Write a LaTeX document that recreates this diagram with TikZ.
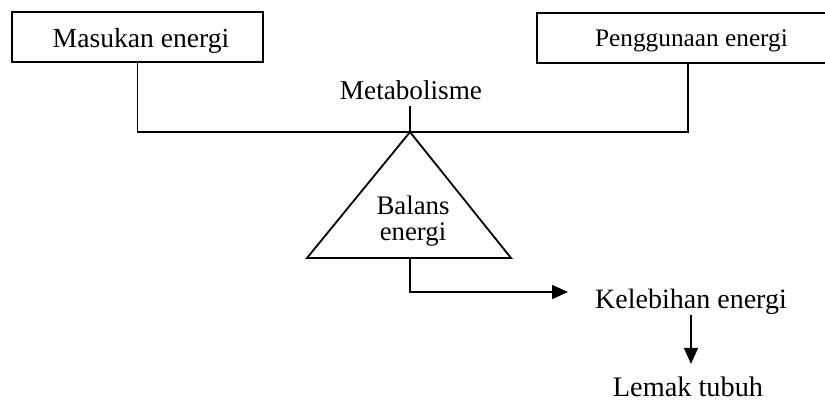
\documentclass[tikz,border=0pt]{standalone}
\usepackage{fontspec}
\setmainfont{Liberation Serif}
\usetikzlibrary{arrows.meta}
\tikzset{
  frame/.style={draw, line width=1.8pt, inner sep=0pt},
  lbl/.style={inner sep=0pt, font=\fontsize{27.6}{33}\selectfont},
  lnk/.style={line width=1.8pt},
  arr/.style={line width=1.8pt, -{Triangle[length=16pt,width=14pt]}},
}
\begin{document}
\begin{tikzpicture}[x=1pt,y=-1pt]
\useasboundingbox (0,0) rectangle (825,402);
\clip (0,0) rectangle (825,402);
% boxes
\node[frame, minimum width=251pt, minimum height=50pt] (masuk) at (137.5,37) {};
\node[lbl] (masukT) at (141,41) {Masukan energi};
\node[frame, minimum width=302pt, minimum height=50pt] (guna) at (688,38) {};
\node[lbl, font=\fontsize{25.3}{30}\selectfont] (gunaT) at (691.5,41) {Penggunaan energi};
% beam
\coordinate (apex) at (410,132);
\draw[lnk] (masuk.south) |- (apex) -| (guna.south);
% metabolisme
\node[lbl, font=\fontsize{27.2}{32}\selectfont, anchor=base] (meta) at (411,99) {Metabolisme};
\draw[lnk] (apex) -- (410,106);
% triangle
\coordinate (bl) at (307,258);
\coordinate (br) at (511,258);
\coordinate (bmid) at (410,258);
\draw[lnk, line join=miter] (bl) -- (apex) -- (br) -- cycle;
\node[lbl, font=\fontsize{26.8}{26}\selectfont, align=center] (bal) at (413,221.5) {Balans\\energi};
% excess
\node[lbl, font=\fontsize{28}{33}\selectfont] (lebih) at (691,302) {Kelebihan energi};
\coordinate (tip1) at (568,292);
\draw[arr] (bmid) |- (tip1);
\node[lbl, font=\fontsize{28.3}{33}\selectfont] (lemak) at (688,387) {Lemak tubuh};
\draw[arr, shorten >=13pt] (lebih.south) -- (lebih.south |- lemak.north);
\end{tikzpicture}
\end{document}
